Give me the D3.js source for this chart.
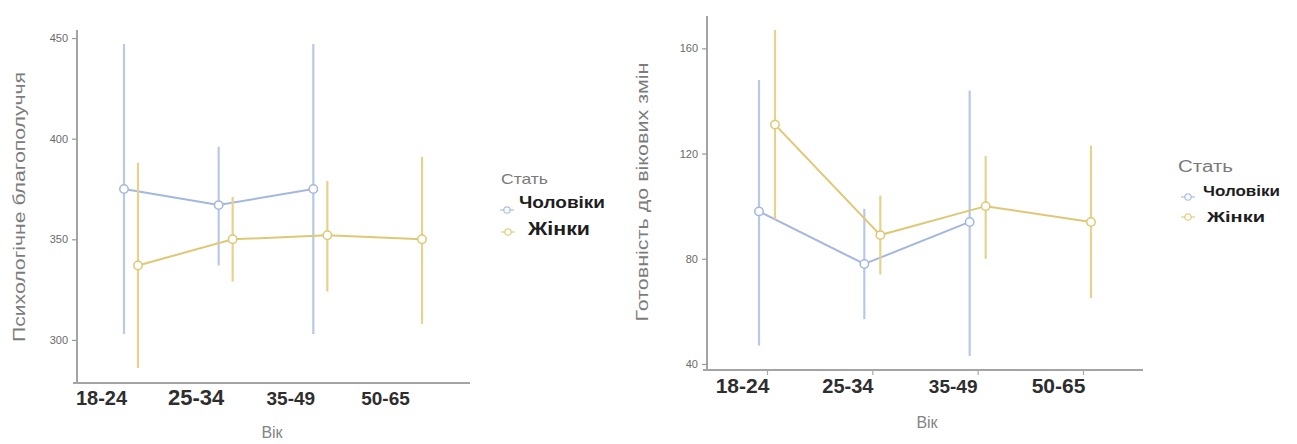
<!DOCTYPE html>
<html>
<head>
<meta charset="utf-8">
<script src="https://cdn.jsdelivr.net/npm/d3@7"></script>
<style>
  html, body { margin: 0; padding: 0; background: #fff; }
  svg { display: block; font-family: "Liberation Sans", Arial, sans-serif; }
</style>
</head>
<body>
<svg id="chart" width="1297" height="444"></svg>
<script>
// Age groups and sex groups
const ageGroups = ["18-24", "25-34", "35-49", "50-65"];
const sexLabels = ["Чоловіки", "Жінки"];

// Психологічне благополуччя: means and interval bounds (men have no 50-65 group)
const wellbeingMen      = [375, 367, 375, null];
const wellbeingMenLow   = [303, 337, 303, null];
const wellbeingMenHigh  = [447, 396, 447, null];
const wellbeingWomen     = [337, 350, 352, 350];
const wellbeingWomenLow  = [286, 329, 324, 308];
const wellbeingWomenHigh = [388, 371, 379, 391];
const wellbeingTicks = [300, 350, 400, 450];

// Готовність до вікових змін
const readinessMen      = [98, 78, 94, null];
const readinessMenLow   = [47, 57, 43, null];
const readinessMenHigh  = [148, 99, 144, null];
const readinessWomen     = [131, 89, 100, 94];
const readinessWomenLow  = [95, 74, 80, 65];
const readinessWomenHigh = [167, 104, 119, 123];
const readinessTicks = [40, 80, 120, 160];

const colMen = "#a3b7df";
const colMenBar = "#b9c8e6";
const colWomen = "#dfc874";
const colWomenBar = "#e6d28c";

const svg = d3.select("#chart");

function seriesOf(mean, low, high) {
  return ageGroups.map((g, i) => ({ g, m: mean[i], lo: low[i], hi: high[i] }))
                  .filter(d => d.m != null);
}

function drawPanel(cfg) {
  const g = svg.append("g");
  const x = d3.scalePoint().domain(ageGroups).range(cfg.xRange);
  const y = d3.scaleLinear().domain(cfg.yDomain).range([cfg.axisY, cfg.axisTop]);

  // axes lines
  g.append("line")
    .attr("x1", cfg.axisX).attr("x2", cfg.axisX)
    .attr("y1", cfg.axisTop).attr("y2", cfg.axisY)
    .attr("stroke", "#a4a4a4").attr("stroke-width", 2);
  g.append("line")
    .attr("x1", cfg.axisX - 4).attr("x2", cfg.axisRight)
    .attr("y1", cfg.axisY).attr("y2", cfg.axisY)
    .attr("stroke", "#a4a4a4").attr("stroke-width", 2);

  // y axis ticks
  const yAxis = d3.axisLeft(y).tickValues(cfg.yTicks).tickSize(5).tickPadding(4);
  const ya = g.append("g").attr("transform", `translate(${cfg.axisX},0)`).call(yAxis);
  ya.select(".domain").remove();
  ya.selectAll(".tick line").attr("stroke", "#9a9a9a").attr("stroke-width", 1.2);
  ya.selectAll(".tick text").attr("fill", "#6a6a6a").style("font-size", "11px")
    .style("font-family", "'Liberation Sans', Arial, sans-serif");

  // x axis: category labels sit left of the group centres
  const xAxis = d3.axisBottom(x).tickSize(cfg.xTickSize).tickPadding(0);
  const xa = g.append("g").attr("transform", `translate(0,${cfg.axisY})`).call(xAxis);
  xa.select(".domain").remove();
  xa.selectAll(".tick line").attr("stroke", "#a8a8a8").attr("stroke-width", 1.2);
  xa.selectAll(".tick text")
    .attr("dx", cfg.labelDx).attr("y", 0).attr("dy", cfg.labelDy)
    .attr("fill", "#2e2e2e")
    .style("font-size", (d, i) => cfg.labelSizes[i] + "px")
    .style("font-weight", "700")
    .style("font-family", "'Liberation Sans', Arial, sans-serif");

  // titles
  g.append("text")
    .attr("transform", `translate(${cfg.yTitleX},${cfg.yTitleY}) rotate(-90)`)
    .attr("text-anchor", "middle")
    .attr("fill", "#7c7c7c").style("font-size", cfg.yTitleSize + "px")
    .attr("textLength", cfg.yTitleLen).attr("lengthAdjust", "spacingAndGlyphs")
    .text(cfg.yTitle);
  g.append("text")
    .attr("x", cfg.xTitleX).attr("y", cfg.xTitleY)
    .attr("text-anchor", "middle")
    .attr("fill", "#858585").style("font-size", "16px")
    .text("Вік");

  const groups = [
    { data: seriesOf(...cfg.men), dx: -cfg.dodge, col: colMen, barCol: colMenBar },
    { data: seriesOf(...cfg.women), dx: cfg.dodge, col: colWomen, barCol: colWomenBar }
  ];

  groups.forEach(s => {
    const px = d => x(d.g) + s.dx;
    // error bars
    g.append("g").selectAll("line").data(s.data).join("line")
      .attr("x1", px).attr("x2", px)
      .attr("y1", d => y(d.lo)).attr("y2", d => y(d.hi))
      .attr("stroke", s.barCol).attr("stroke-width", 2.2);
    // connecting line
    g.append("path").datum(s.data)
      .attr("fill", "none").attr("stroke", s.col).attr("stroke-width", 2)
      .attr("d", d3.line().x(px).y(d => y(d.m)));
    // points
    g.append("g").selectAll("circle").data(s.data).join("circle")
      .attr("cx", px).attr("cy", d => y(d.m)).attr("r", 4.2)
      .attr("fill", "#fff").attr("stroke", s.col).attr("stroke-width", 1.5);
  });

  // legend
  const lg = g.append("g");
  lg.append("text").attr("x", cfg.legend.titleX).attr("y", cfg.legend.titleY)
    .attr("fill", "#7a7a7a").style("font-size", cfg.legend.titleSize + "px")
    .attr("textLength", cfg.legend.titleLen).attr("lengthAdjust", "spacingAndGlyphs")
    .text("Стать");
  [colMen, colWomen].forEach((c, i) => {
    const it = cfg.legend.items[i];
    lg.append("line")
      .attr("x1", it.sx - 7).attr("x2", it.sx + 7)
      .attr("y1", it.sy).attr("y2", it.sy)
      .attr("stroke", c).attr("stroke-width", 1.5).attr("opacity", 0.7);
    lg.append("circle").attr("cx", it.sx).attr("cy", it.sy).attr("r", 3.2)
      .attr("fill", "#fff").attr("stroke", c).attr("stroke-width", 1.2).attr("opacity", 0.85);
    lg.append("text").attr("x", it.tx).attr("y", it.ty)
      .attr("fill", "#1e1e1e").style("font-size", it.size + "px")
      .style("font-weight", "700")
      .attr("textLength", it.len).attr("lengthAdjust", "spacingAndGlyphs")
      .text(sexLabels[i]);
  });
}

drawPanel({
  xRange: [131, 415], dodge: 7,
  yDomain: [278.6, 454], yTicks: wellbeingTicks,
  axisX: 77, axisTop: 30, axisY: 383, axisRight: 470,
  xTickSize: 0, labelDx: -30, labelDy: 22, labelSizes: [20, 22, 19, 19],
  yTitle: "Психологічне благополуччя", yTitleX: 25, yTitleY: 207, yTitleSize: 16.5, yTitleLen: 270,
  xTitleX: 272, xTitleY: 438,
  men: [wellbeingMen, wellbeingMenLow, wellbeingMenHigh],
  women: [wellbeingWomen, wellbeingWomenLow, wellbeingWomenHigh],
  legend: {
    titleX: 501, titleY: 184, titleSize: 15, titleLen: 47,
    items: [
      { sx: 507, sy: 210, tx: 519, ty: 208, size: 16, len: 86 },
      { sx: 508, sy: 232, tx: 528, ty: 235, size: 18, len: 62 }
    ]
  }
});

drawPanel({
  xRange: [767, 1083], dodge: 8,
  yDomain: [37.7, 172.3], yTicks: readinessTicks,
  axisX: 707, axisTop: 16, axisY: 370, axisRight: 1143,
  xTickSize: 5, labelDx: -25, labelDy: 23, labelSizes: [21, 20, 19, 21],
  yTitle: "Готовність до вікових змін", yTitleX: 648, yTitleY: 192, yTitleSize: 16.5, yTitleLen: 259,
  xTitleX: 927, xTitleY: 428,
  men: [readinessMen, readinessMenLow, readinessMenHigh],
  women: [readinessWomen, readinessWomenLow, readinessWomenHigh],
  legend: {
    titleX: 1178, titleY: 172, titleSize: 16, titleLen: 55,
    items: [
      { sx: 1188, sy: 197, tx: 1203, ty: 196, size: 15, len: 77 },
      { sx: 1188, sy: 217, tx: 1207, ty: 222, size: 15, len: 58 }
    ]
  }
});
</script>
</body>
</html>
